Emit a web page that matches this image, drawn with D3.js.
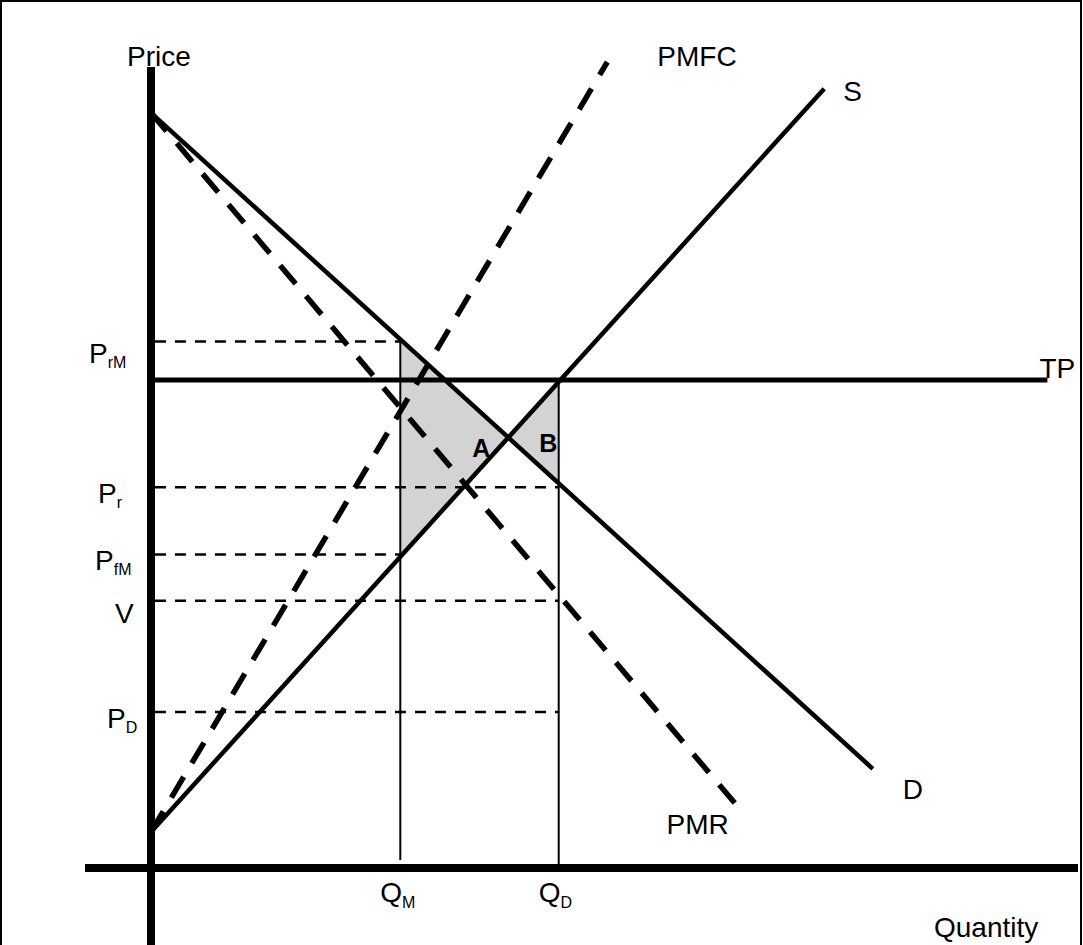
<!DOCTYPE html>
<html>
<head>
<meta charset="utf-8">
<script src="https://cdn.jsdelivr.net/npm/d3@7"></script>
<style>
  body { margin: 0; background: #fff; }
  text { font-family: "Liberation Sans", Arial, sans-serif; fill: #000; }
</style>
</head>
<body>
<svg id="chart" width="1083" height="945"></svg>
<script>
// curve end points as [quantity, price]
var demand = [[0, 94.4], [80.2, 12.4]];
var pmr = [[0, 94.4], [65.4, 7.4]];
var supply = [[0, 4.5], [74.8, 97.4]];
var pmfc = [[0, 4.5], [50.7, 100.75]];
var tpPrice = 61;
var tpEnd = 99.6;

// quantity marks
var qSub = ["M", "D"];
var qValues = [27.7, 45.3];

// price marks (dashed guide runs to pTo)
var pMain = ["P", "P", "P", "V", "P"];
var pSub = ["rM", "r", "fM", "", "D"];
var pValues = [65.8, 47.6, 39.2, 33.4, 19.5];
var pTo = [27.7, 45.3, 27.7, 45.3, 45.3];

var svg = d3.select("#chart"),
    W = +svg.attr("width"),
    H = +svg.attr("height");

var x = d3.scaleLinear().domain([0, 100]).range([151, 1051]);
var y = d3.scaleLinear().domain([0, 100]).range([868, 68]);

var line = d3.line().x(function (d) { return x(d[0]); }).y(function (d) { return y(d[1]); });

function slope(l) { return (l[1][1] - l[0][1]) / (l[1][0] - l[0][0]); }
function at(l, q) { return l[0][1] + slope(l) * (q - l[0][0]); }
function cross(a, b) {
    var q = (b[0][1] - a[0][1] + slope(a) * a[0][0] - slope(b) * b[0][0]) / (slope(a) - slope(b));
    return [q, at(a, q)];
}

var qM = qValues[0], qD = qValues[1];
var ds = cross(demand, supply);
var sTp = [(tpPrice - supply[0][1]) / slope(supply) + supply[0][0], tpPrice];

// frame
svg.append("rect")
    .attr("x", 1).attr("y", 1).attr("width", W - 3).attr("height", H + 20)
    .attr("fill", "none").attr("stroke", "#000").attr("stroke-width", 2);

// shaded areas A and B
var areaA = [[qM, at(demand, qM)], ds, [qM, at(supply, qM)]];
var areaB = [sTp, ds, [qD, at(demand, qD)], [qD, tpPrice]];
svg.selectAll(".shade")
    .data([areaA, areaB])
    .enter().append("path")
    .attr("class", "shade")
    .attr("d", function (d) { return line(d) + "Z"; })
    .attr("fill", "#d3d3d3");

// thin dashed price guides
svg.selectAll(".guide")
    .data(pValues)
    .enter().append("line")
    .attr("class", "guide")
    .attr("x1", x(0) + 4)
    .attr("x2", function (d, i) { return x(pTo[i]); })
    .attr("y1", function (d) { return y(d); })
    .attr("y2", function (d) { return y(d); })
    .attr("stroke", "#000").attr("stroke-width", 2.5)
    .attr("stroke-dasharray", "11,9");

// thin vertical quantity lines
svg.append("line")
    .attr("x1", x(qM)).attr("x2", x(qM))
    .attr("y1", y(pValues[0])).attr("y2", y(1))
    .attr("stroke", "#000").attr("stroke-width", 2);
svg.append("line")
    .attr("x1", x(qD)).attr("x2", x(qD))
    .attr("y1", y(tpPrice)).attr("y2", y(0))
    .attr("stroke", "#000").attr("stroke-width", 2);

// dashed curves
svg.selectAll(".dcurve")
    .data([pmr, pmfc])
    .enter().append("path")
    .attr("class", "dcurve")
    .attr("d", line)
    .attr("fill", "none").attr("stroke", "#000").attr("stroke-width", 5.5)
    .attr("stroke-dasharray", "24,16");

// solid curves
svg.selectAll(".scurve")
    .data([demand, supply])
    .enter().append("path")
    .attr("class", "scurve")
    .attr("d", line)
    .attr("fill", "none").attr("stroke", "#000").attr("stroke-width", 4.5);

svg.append("line")
    .attr("x1", x(0)).attr("x2", x(tpEnd))
    .attr("y1", y(tpPrice)).attr("y2", y(tpPrice))
    .attr("stroke", "#000").attr("stroke-width", 5);

// axes
svg.append("line")
    .attr("x1", x(0)).attr("x2", x(0))
    .attr("y1", 67).attr("y2", H)
    .attr("stroke", "#000").attr("stroke-width", 8);
svg.append("line")
    .attr("x1", 85).attr("x2", W - 5)
    .attr("y1", y(0)).attr("y2", y(0))
    .attr("stroke", "#000").attr("stroke-width", 8);

// price labels
var pOffset = [[-62, 21], [-53, 16], [-56, 16], [-36, 22], [-44, 16]];
var pl = svg.selectAll(".plabel")
    .data(pValues)
    .enter().append("text")
    .attr("class", "plabel")
    .attr("x", function (d, i) { return x(0) + pOffset[i][0]; })
    .attr("y", function (d, i) { return y(d) + pOffset[i][1]; })
    .attr("font-size", 28);
pl.append("tspan").text(function (d, i) { return pMain[i]; });
pl.append("tspan")
    .attr("font-size", 16).attr("dx", 0).attr("dy", 5)
    .text(function (d, i) { return pSub[i]; });

// quantity labels
var ql = svg.selectAll(".qlabel")
    .data(qValues)
    .enter().append("text")
    .attr("class", "qlabel")
    .attr("x", function (d) { return x(d) - 20; })
    .attr("y", y(0) + 34)
    .attr("font-size", 28);
ql.append("tspan").text("Q");
ql.append("tspan")
    .attr("font-size", 16).attr("dx", 0).attr("dy", 6)
    .text(function (d, i) { return qSub[i]; });

// curve labels
var curveLabels = [
    { t: "PMFC", p: pmfc[1], dx: 50, dy: 4 },
    { t: "S", p: supply[1], dx: 19, dy: 12 },
    { t: "D", p: demand[1], dx: 30, dy: 30 },
    { t: "PMR", p: pmr[1], dx: -73, dy: 25 },
    { t: "TP", p: [tpEnd, tpPrice], dx: -8, dy: -2 }
];
svg.selectAll(".clabel")
    .data(curveLabels)
    .enter().append("text")
    .attr("class", "clabel")
    .attr("x", function (d) { return x(d.p[0]) + d.dx; })
    .attr("y", function (d) { return y(d.p[1]) + d.dy; })
    .attr("font-size", 28)
    .text(function (d) { return d.t; });

svg.append("text").attr("x", x(0) - 24).attr("y", 66).attr("font-size", 28).text("Price");
svg.append("text").attr("x", 934).attr("y", 937).attr("font-size", 28).text("Quantity");

// area letters
svg.append("text")
    .attr("x", x(ds[0]) - 36).attr("y", y(ds[1]) + 19)
    .attr("font-size", 25).attr("font-weight", "bold").text("A");
svg.append("text")
    .attr("x", x(ds[0]) + 31).attr("y", y(ds[1]) + 14)
    .attr("font-size", 25).attr("font-weight", "bold").text("B");
</script>
</body>
</html>
